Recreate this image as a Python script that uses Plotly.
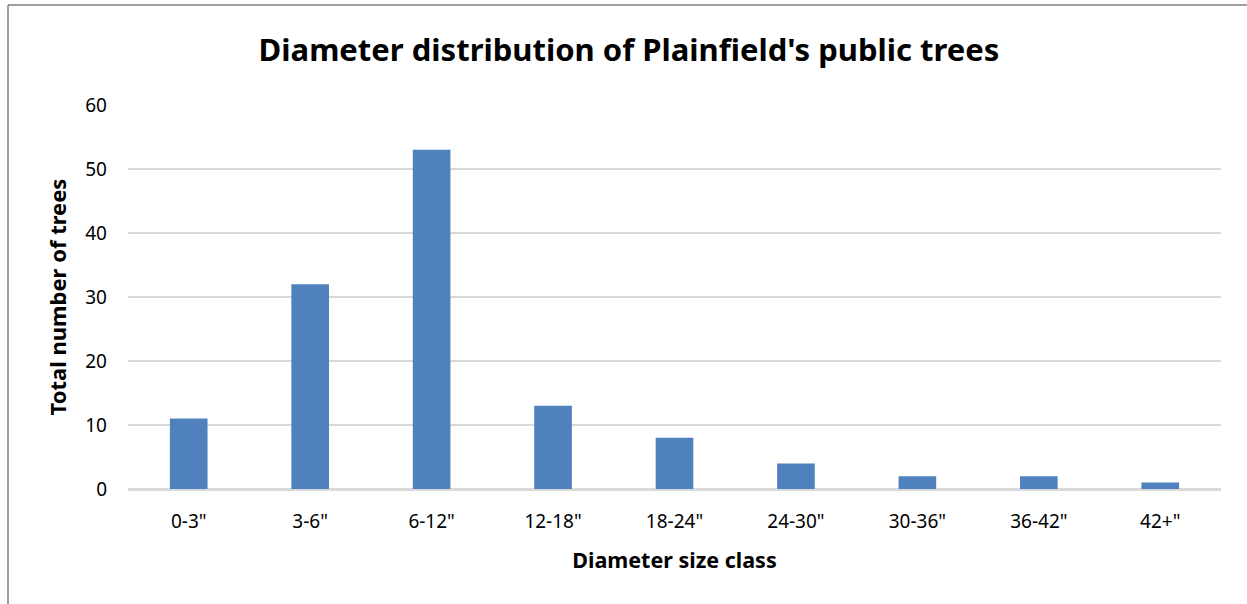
import plotly.graph_objects as go

# datos
clases = ['0-3"', '3-6"', '6-12"', '12-18"', '18-24"', '24-30"', '30-36"', '36-42"', '42+"']
arboles = [11, 32, 53, 13, 8, 4, 2, 2, 1]

W, H = 1247, 604
L, R, T, B = 128, 26, 105, 115
pw, ph = W - L - R, H - T - B

fig = go.Figure()
fig.add_trace(go.Bar(
    x=clases,
    y=arboles,
    width=0.31,
    marker=dict(color="#4F81BD", line=dict(width=0)),
))

fig.update_layout(
    width=W, height=H,
    margin=dict(l=L, r=R, t=T, b=B, pad=0),
    paper_bgcolor="white",
    plot_bgcolor="white",
    showlegend=False,
    font=dict(family="Noto Sans, Open Sans, sans-serif", color="#000000", size=19),
    title=dict(
        text="<b>Diameter distribution of Plainfield's public trees</b>",
        x=629 / W, xanchor="center",
        y=1 - 50 / H, yanchor="middle",
        font=dict(size=31, color="#000000"),
    ),
    xaxis=dict(
        title=dict(text="<b>Diameter size class</b>", font=dict(size=21.5), standoff=20),
        tickfont=dict(size=19),
        showline=True, linecolor="#D9D9D9", linewidth=1.5,
        ticks="", showgrid=False, ticklabelstandoff=14,
    ),
    yaxis=dict(
        title=dict(text="<b>Total number of trees</b>", font=dict(size=22), standoff=12),
        range=[0, 60], dtick=10,
        tickfont=dict(size=19),
        showgrid=True, gridcolor="#D9D9D9", gridwidth=1.5,
        zeroline=True, zerolinecolor="#D9D9D9", zerolinewidth=1.5,
        ticks="", ticklabelstandoff=20,
    ),
    shapes=[
        dict(type="line", xref="paper", yref="paper",
             x0=(8 - L) / pw, x1=(W - L) / pw,
             y0=(H - B - 5) / ph, y1=(H - B - 5) / ph,
             line=dict(color="#7F7F7F", width=1.5)),
        dict(type="line", xref="paper", yref="paper",
             x0=(8 - L) / pw, x1=(8 - L) / pw,
             y0=(H - B - 5) / ph, y1=(H - B - H) / ph,
             line=dict(color="#7F7F7F", width=1.5)),
    ],
)

fig.write_html("out.html", config={"displayModeBar": False},
               post_script="document.body.style.margin='0';")
